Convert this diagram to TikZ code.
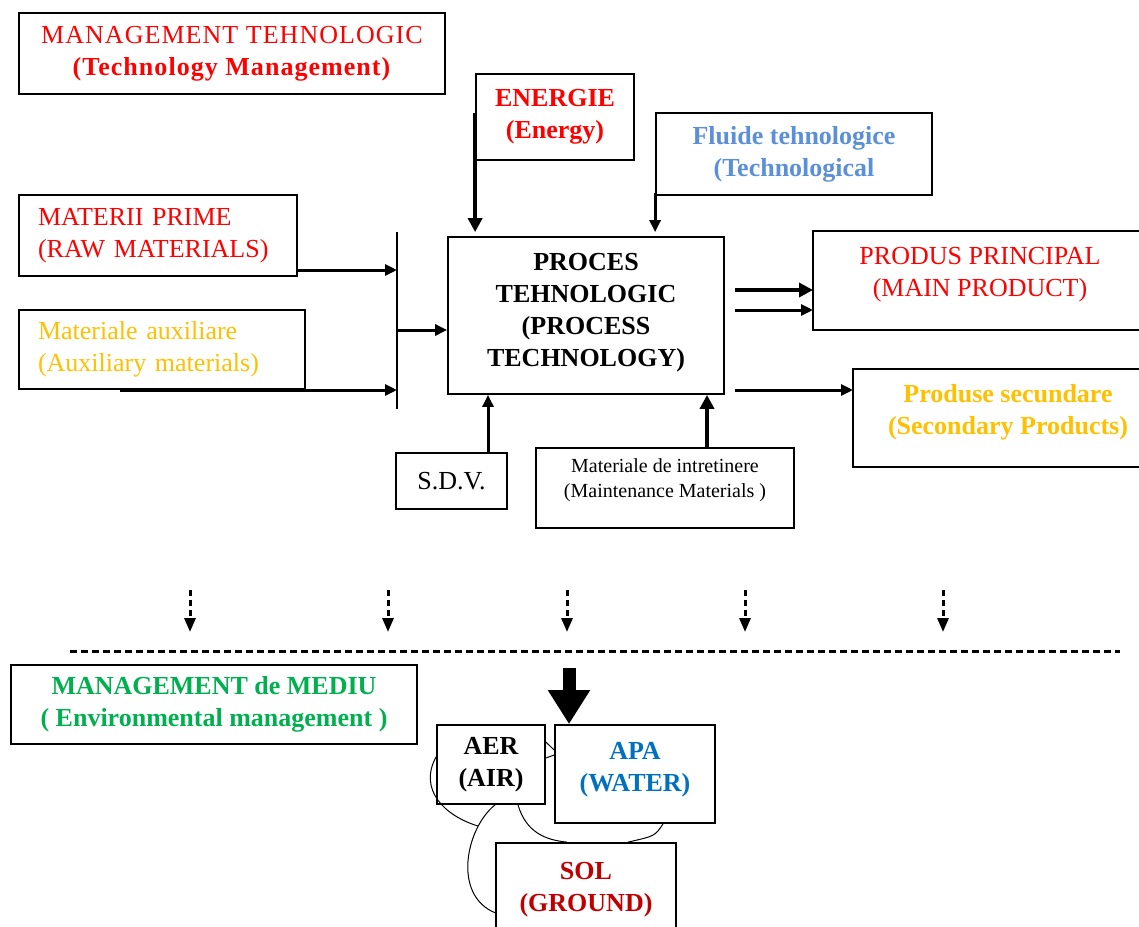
\documentclass[tikz,border=0pt]{standalone}
\usepackage{fontspec}
\setmainfont{Liberation Serif}
\usetikzlibrary{arrows.meta, calc}
\definecolor{txtred}{HTML}{FF0000}
\definecolor{txtgold}{HTML}{FFC000}
\definecolor{txtsky}{HTML}{5B8FD9}
\definecolor{txtblue}{HTML}{0070C0}
\definecolor{txtdark}{HTML}{C00000}
\definecolor{txtgreen}{HTML}{00B050}
\tikzstyle{block}=[draw,fill=white,rectangle,line width=0.9pt,inner sep=0pt,align=center]
\tikzstyle{every node}=[font=\fontsize{13}{16}\selectfont]
\tikzstyle{heavy}=[font=\fontsize{13}{16}\selectfont\bfseries]
\tikzstyle{smalltxt}=[font=\fontsize{10}{12.5}\selectfont]
\tikzstyle{flow}=[line width=1.5pt,-{Triangle[length=6pt,width=5.5pt]}]
\tikzstyle{bigflow}=[line width=2.2pt,-{Triangle[length=7pt,width=7pt]}]
\tikzstyle{dashflow}=[line width=1.5pt,dash pattern=on 3pt off 2pt,-{Triangle[length=7pt,width=5.5pt]}]
\tikzstyle{loop}=[line width=0.5pt]

\begin{document}
\begin{tikzpicture}[x=0.5pt, y=-0.5pt]
  \useasboundingbox (0,0) rectangle (1139,926);

  % technology side
  \node[block, minimum width=213pt, minimum height=40.5pt, text=txtred,
    font=\fontsize{13}{16}\selectfont\addfontfeatures{LetterSpace=4}] (techmgmt) at (232,53.5)
    {MANAGEMENT TEHNOLOGIC\\\textbf{(Technology Management)}};
  \node[block, heavy, minimum width=79pt, minimum height=43pt, text=txtred] (energie) at (555,117)
    {ENERGIE\\(Energy)};
  \node[block, heavy, minimum width=138pt, minimum height=41pt, text=txtsky] (fluide) at (794,154)
    {Fluide tehnologice\\(Technological};
  \node[block, minimum width=139pt, minimum height=40.5pt, text width=120pt, align=left, text=txtred] (materii) at (158,235.5)
    {MATERII PRIME\\(RAW MATERIALS)};
  \node[block, minimum width=143pt, minimum height=39.5pt, text width=124pt, align=left, text=txtgold] (auxiliare) at (162,349.5)
    {Materiale auxiliare\\(Auxiliary materials)};
  \node[block, minimum width=138pt, minimum height=78.5pt,
    label={[heavy, align=center, yshift=1.25pt]center:PROCES\\TEHNOLOGIC\\(PROCESS\\TECHNOLOGY)}] (proces) at (586,315.5) {};
  \node[block, minimum width=167pt, minimum height=49.5pt,
    label={[text=txtred, align=center, yshift=2.75pt]center:PRODUS PRINCIPAL\\(MAIN PRODUCT)}] (produs) at (980,280.5) {};
  \node[block, minimum width=155pt, minimum height=49pt,
    label={[heavy, text=txtgold, align=center, yshift=3pt]center:Produse secundare\\(Secondary Products)}] (secundare) at (1008,418) {};
  \node[block, minimum width=55.5pt, minimum height=28pt] (sdv) at (451.5,481) {S.D.V.};
  \node[block, minimum width=129pt, minimum height=40pt,
    label={[smalltxt, align=center, yshift=4pt]center:Materiale de intretinere\\(Maintenance Materials )}] (intretinere) at (665,488) {};

  % collector bar
  \coordinate (bartop) at (397,232);
  \coordinate (barbot) at (397,409);
  \coordinate (in1) at (397,270);
  \coordinate (in2) at (397,390);
  \coordinate (barmid) at (397,330);
  \coordinate (auxtail) at (120,390);
  \draw[line width=1pt] (bartop) -- (barbot);
  \draw[flow] (in1 -| materii.east) -- (in1);
  \draw[flow] (auxtail) -- (in2);
  \draw[flow] (barmid) -- (barmid -| proces.west);

  \draw[bigflow] (energie.west |- 0,113) -- ([yshift=2pt]energie.west |- proces.north);
  \draw[flow] ([yshift=1.5pt]fluide.south west) -- ([yshift=2pt]fluide.south west |- proces.north);

  \coordinate (o1) at (813,290);
  \coordinate (o2) at (813,310);
  \coordinate (o3) at (853,390);
  \draw[bigflow] ([xshift=5pt]proces.east |- o1) -- (o1);
  \draw[flow] ([xshift=5pt]proces.east |- o2) -- (o2);
  \draw[flow] ([xshift=5pt]proces.east |- o3) -- (o3);

  \draw[flow] ([xshift=18.25pt]sdv.north) -- ([xshift=18.25pt]sdv.north |- proces.south);
  \draw[bigflow] ([xshift=21pt]intretinere.north) -- ([xshift=21pt]intretinere.north |- proces.south);

  % towards the environment
  \foreach \x [count=\i] in {190,388,567,745,943} {
    \coordinate (d\i a) at (\x,590);
    \coordinate (d\i b) at (\x,632);
    \draw[dashflow] (d\i a) -- (d\i b);
  }
  \coordinate (sepL) at (70,651);
  \coordinate (sepR) at (1120,651);
  \draw[line width=1.5pt, dash pattern=on 3.5pt off 2pt] (sepL) -- (sepR);

  % environment side
  \node[block, heavy, minimum width=203pt, minimum height=39.5pt, text=txtgreen] (envmgmt) at (214,704.5)
    {MANAGEMENT de MEDIU\\( Environmental management )};
  \node[block, heavy, minimum width=54pt, minimum height=39.5pt] (aer) at (491,764.5) {AER\\(AIR)};
  \node[block, minimum width=80pt, minimum height=49pt,
    label={[heavy, text=txtblue, align=center, yshift=2.25pt]center:APA\\(WATER)}] (apa) at (635,774) {};
  \node[block, minimum width=90pt, minimum height=57pt,
    label={[heavy, text=txtdark, align=center, yshift=5pt]center:SOL\\(GROUND)}] (sol) at (586,900) {};

  \coordinate (big) at (569,668);
  \draw[line width=6.5pt, -{Triangle[length=17pt,width=20pt]}] (big) -- (big |- apa.north);

  \coordinate (meet) at (478,826);
  \draw[loop] (aer.172) .. controls (418,790) and (445,816) .. (meet);
  \draw[loop] ([xshift=2pt]aer.south) .. controls (466,828) and (452,895) .. (sol.188);
  \draw[loop] ([xshift=13.5pt]aer.south) .. controls (526,832) and (545,840) .. ([xshift=-9.5pt]sol.north);
  \draw[loop] ([xshift=14pt]apa.south) .. controls (655,836) .. ([xshift=21pt]sol.north);
  \draw[loop] ([yshift=11.25pt]aer.east) -- ([yshift=12pt]apa.west);
  \draw[loop] ([yshift=3.25pt]aer.east) -- ([yshift=9.5pt]apa.west);
\end{tikzpicture}
\end{document}
